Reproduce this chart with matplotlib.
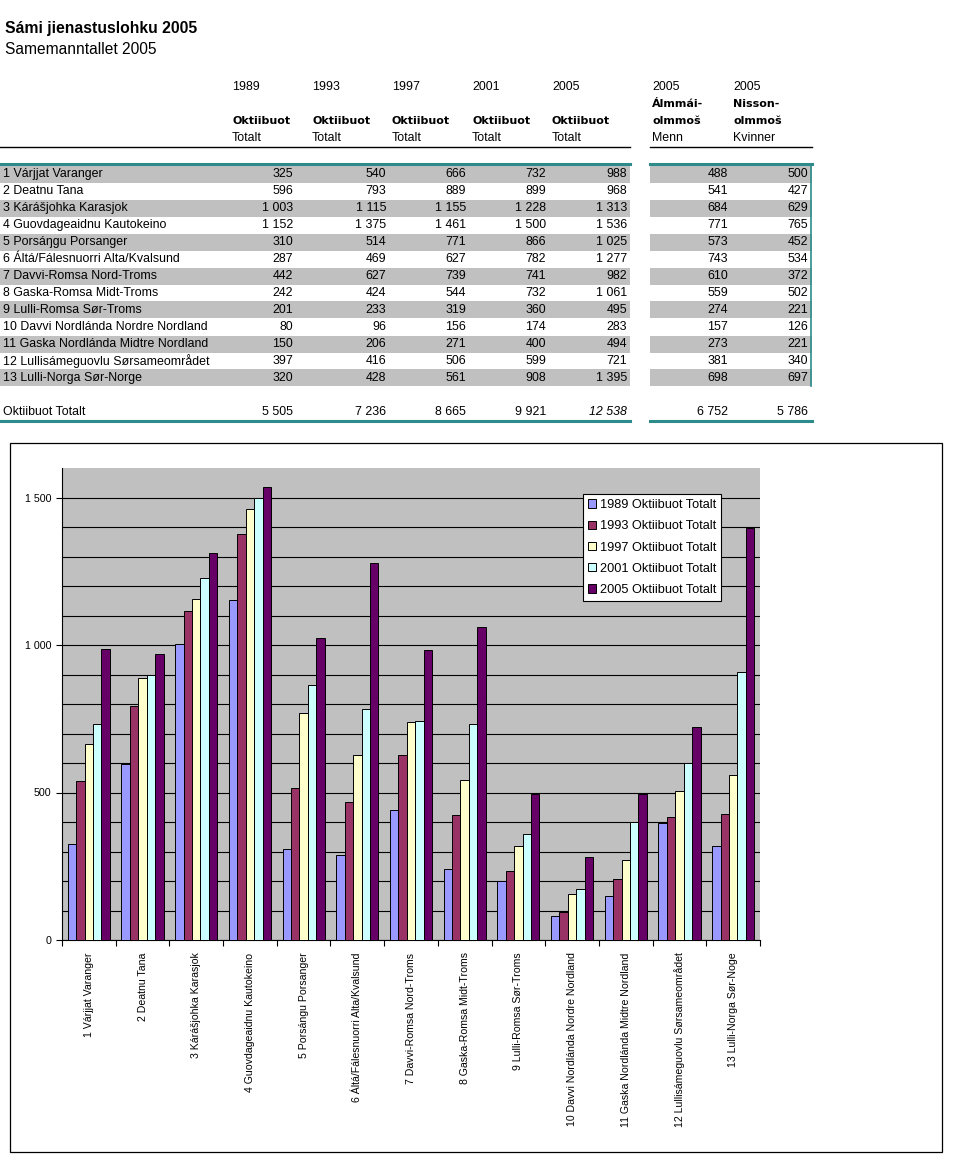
import numpy as np
import matplotlib
matplotlib.use("Agg")
from matplotlib import pyplot as plt
from matplotlib.patches import Rectangle
from matplotlib.lines import Line2D

plt.rcParams['font.family'] = ['Liberation Sans', 'DejaVu Sans']

# table / chart data
regions = ["1 Várjjat Varanger", "2 Deatnu Tana", "3 Kárášjohka Karasjok",
           "4 Guovdageaidnu Kautokeino", "5 Porsáŋgu Porsanger",
           "6 Áltá/Fálesnuorri Alta/Kvalsund", "7 Davvi-Romsa Nord-Troms",
           "8 Gaska-Romsa Midt-Troms", "9 Lulli-Romsa Sør-Troms",
           "10 Davvi Nordlánda Nordre Nordland", "11 Gaska Nordlánda Midtre Nordland",
           "12 Lullisámeguovlu Sørsameområdet", "13 Lulli-Norga Sør-Norge"]
chart_labels = ["1 Várjjat Varanger", "2 Deatnu Tana", "3 Kárášjohka Karasjok",
                "4 Guovdageaidnu Kautokeino", "5 Porsángu Porsanger",
                "6 Áltá/Fálesnuorri Alta/Kvalsund", "7 Davvi-Romsa Nord-Troms",
                "8 Gaska-Romsa Midt-Troms", "9 Lulli-Romsa Sør-Troms",
                "10 Davvi Nordlánda Nordre Nordland", "11 Gaska Nordlánda Midtre Nordland",
                "12 Lullisámeguovlu Sørsameområdet", "13 Lulli-Norga Sør-Noge"]
years = ["1989", "1993", "1997", "2001", "2005"]
v1989 = [325, 596, 1003, 1152, 310, 287, 442, 242, 201, 80, 150, 397, 320]
v1993 = [540, 793, 1115, 1375, 514, 469, 627, 424, 233, 96, 206, 416, 428]
v1997 = [666, 889, 1155, 1461, 771, 627, 739, 544, 319, 156, 271, 506, 561]
v2001 = [732, 899, 1228, 1500, 866, 782, 741, 732, 360, 174, 400, 599, 908]
v2005 = [988, 968, 1313, 1536, 1025, 1277, 982, 1061, 495, 283, 494, 721, 1395]
men2005 = [488, 541, 684, 771, 573, 743, 610, 559, 274, 157, 273, 381, 698]
women2005 = [500, 427, 629, 765, 452, 534, 372, 502, 221, 126, 221, 340, 697]
series = [v1989, v1993, v1997, v2001, v2005]
colors = ["#9999FF", "#993366", "#FFFFCC", "#CCFFFF", "#660066"]

W, H = 971, 1170
fig = plt.figure(figsize=(W / 100, H / 100), dpi=100)


def fx(x):
    return x / W


def fy(y):
    return 1 - y / H


def fmt(v):
    return "{:,}".format(v).replace(",", " ")


def hline(x0, x1, y, color="black", lw=1.0):
    fig.add_artist(Line2D([fx(x0), fx(x1)], [fy(y), fy(y)], color=color, lw=lw))


teal = "#2E8B8B"
grey = "#C0C0C0"
fs = 8.9

# titles
fig.text(fx(5), fy(28), "Sámi jienastuslohku 2005", fontsize=11.3, weight="bold", va="center")
fig.text(fx(5), fy(49), "Samemanntallet 2005", fontsize=11.2, va="center")

# header
col_left = [232, 312, 392, 472, 552]
col_right = [293, 386, 466, 546, 627]
for xl, yr in zip(col_left, years):
    fig.text(fx(xl), fy(87), yr, fontsize=fs, va="center")
    fig.text(fx(xl), fy(121), "Oktiibuot", fontsize=8, va="center",
             weight="bold", family="DejaVu Sans")
    fig.text(fx(xl), fy(138), "Totalt", fontsize=fs, va="center")
fig.text(fx(652), fy(87), "2005", fontsize=fs, va="center")
fig.text(fx(733), fy(87), "2005", fontsize=fs, va="center")
fig.text(fx(652), fy(104), "Álmmái-", fontsize=8, va="center", weight="bold", family="DejaVu Sans")
fig.text(fx(733), fy(104), "Nisson-", fontsize=8, va="center", weight="bold", family="DejaVu Sans")
fig.text(fx(652), fy(121), "olmmoš", fontsize=8, va="center", weight="bold", family="DejaVu Sans")
fig.text(fx(733), fy(121), "olmmoš", fontsize=8, va="center", weight="bold", family="DejaVu Sans")
fig.text(fx(652), fy(138), "Menn", fontsize=fs, va="center")
fig.text(fx(733), fy(138), "Kvinner", fontsize=fs, va="center")
hline(0, 630, 147)
hline(650, 812, 147)

# rows
row_h = 17
for i, name in enumerate(regions):
    yc = 174 + i * row_h
    if i % 2 == 0:
        for x0, x1 in [(0, 630), (650, 812)]:
            fig.add_artist(Rectangle((fx(x0), fy(yc + row_h / 2)), fx(x1 - x0), row_h / H,
                                     facecolor=grey, edgecolor="none"))
    fig.text(fx(3), fy(yc), name, fontsize=fs, va="center")
    for xr, s in zip(col_right, series):
        fig.text(fx(xr), fy(yc), fmt(s[i]), fontsize=fs, va="center", ha="right")
    fig.text(fx(728), fy(yc), fmt(men2005[i]), fontsize=fs, va="center", ha="right")
    fig.text(fx(808), fy(yc), fmt(women2005[i]), fontsize=fs, va="center", ha="right")

# totals
fig.text(fx(3), fy(412), "Oktiibuot Totalt", fontsize=fs, va="center")
for xr, s, yr in zip(col_right, series, years):
    fig.text(fx(xr), fy(412), fmt(sum(s)), fontsize=fs, va="center", ha="right",
             style="italic" if yr == "2005" else "normal")
fig.text(fx(728), fy(412), fmt(sum(men2005)), fontsize=fs, va="center", ha="right")
fig.text(fx(808), fy(412), fmt(sum(women2005)), fontsize=fs, va="center", ha="right")

for x0, x1 in [(0, 630), (650, 812)]:
    hline(x0, x1, 164, color=teal, lw=2.2)
    hline(x0, x1, 421, color=teal, lw=2.2)
fig.add_artist(Line2D([fx(811), fx(811)], [fy(164), fy(386)], color=teal, lw=1.2))

# chart frame
fig.add_artist(Rectangle((fx(10), fy(1152)), fx(932), 709 / H, facecolor="none",
                         edgecolor="black", lw=0.9))

ax = fig.add_axes([fx(62), fy(940), fx(698), (940 - 468) / H])
ax.set_facecolor(grey)
x = np.arange(len(chart_labels))
w = 0.157
for j, (s, c, yr) in enumerate(zip(series, colors, years)):
    ax.bar(x + (j - 2) * w, s, width=w, color=c, edgecolor="black", linewidth=0.7,
           label=yr + " Oktiibuot Totalt", zorder=3)

ax.set_xlim(-0.5, len(chart_labels) - 0.5)
ax.set_ylim(0, 1600)
ax.set_yticks([0, 500, 1000, 1500])
ax.set_yticklabels([fmt(v) for v in [0, 500, 1000, 1500]], fontsize=7.7)
ax.set_yticks(np.arange(0, 1501, 100), minor=True)
ax.yaxis.grid(True, which="both", color="black", lw=0.8, zorder=1)
ax.tick_params(axis="y", which="major", length=4, width=0.8)
ax.tick_params(axis="y", which="minor", length=0)
ax.set_xticks(x)
ax.set_xticklabels(chart_labels, rotation=90, fontsize=7.6, va="top")
ax.set_xticks(np.arange(-0.5, len(chart_labels)), minor=True)
ax.tick_params(axis="x", which="major", length=0, pad=9)
ax.tick_params(axis="x", which="minor", length=4, width=0.8)
for sp in ["top", "right"]:
    ax.spines[sp].set_visible(False)
ax.spines["left"].set_linewidth(0.8)
ax.spines["bottom"].set_linewidth(0.8)

leg = ax.legend(loc="upper left", bbox_to_anchor=(fx(583), fy(494)),
                bbox_transform=fig.transFigure, fontsize=9.2, frameon=True, fancybox=False,
                handlelength=0.65, handleheight=0.65, handletextpad=0.25, borderpad=0.4,
                labelspacing=0.72, borderaxespad=0)
leg.get_frame().set_edgecolor("black")
leg.get_frame().set_linewidth(0.8)
leg.get_frame().set_alpha(1)

fig.savefig("out.png", dpi=100)
